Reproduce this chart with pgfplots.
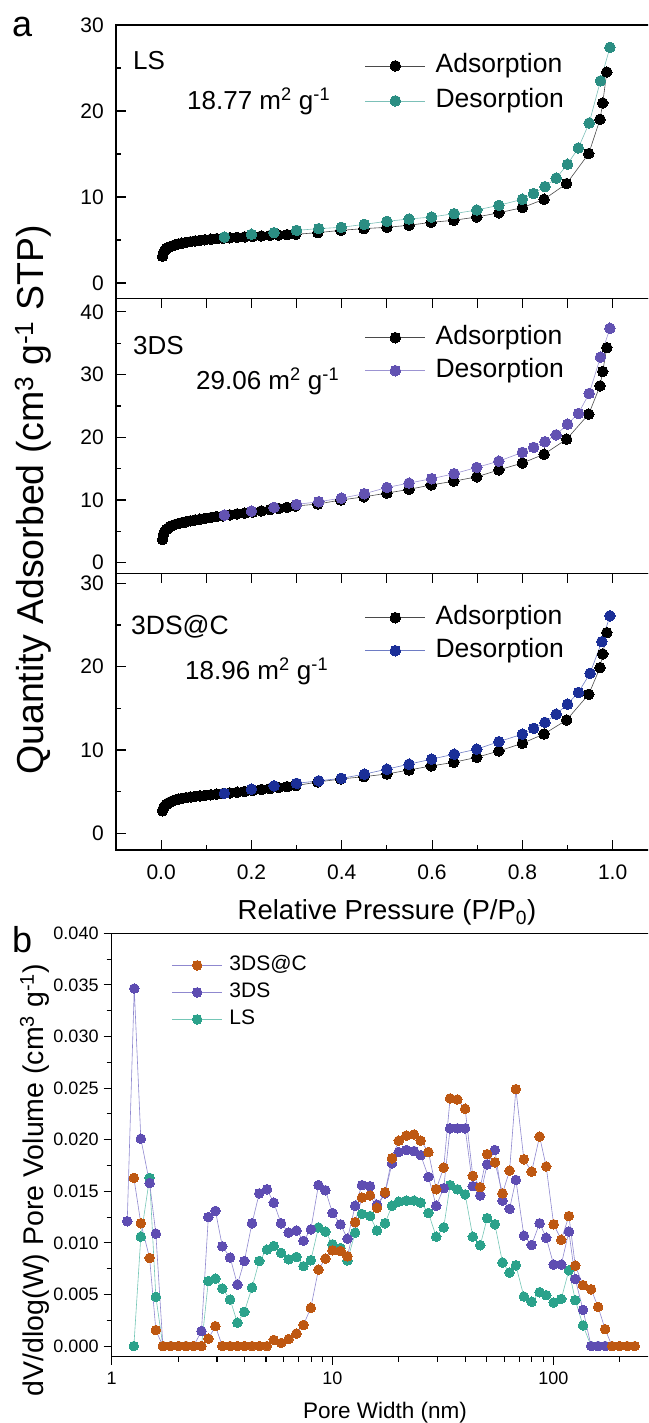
\documentclass[border=0pt]{standalone}
\usepackage{fontspec}
\setmainfont{Liberation Sans}
\usepackage{pgfplots}
\pgfplotsset{compat=1.18}

\definecolor{adsline}{HTML}{4A4A4A}
\definecolor{lsdes}{HTML}{2B8E83}
\definecolor{lsdesline}{HTML}{7CC0B8}
\definecolor{dsdes}{HTML}{6252B2}
\definecolor{dsdesline}{HTML}{9C94D2}
\definecolor{dcdes}{HTML}{1B2F98}
\definecolor{dcdesline}{HTML}{6E7CC4}
\definecolor{bor}{HTML}{BE5812}
\definecolor{bpu}{HTML}{5E4DB2}
\definecolor{bte}{HTML}{2BA28B}
\definecolor{blav}{HTML}{8F88CF}
\definecolor{bteline}{HTML}{74C6B6}

\pgfplotsset{
  panela/.style={
    scale only axis, width=541.8pt, anchor=south west,
    xmin=-0.1, xmax=1.1,
    axis line style={line width=1.2pt},
    every tick/.style={line width=1.1pt, black},
    major tick length=9.5pt, minor tick length=5pt,
    ytick pos=left, xtick pos=lower,
    yticklabel style={font=\fontsize{21}{25}\selectfont, inner sep=0pt, xshift=-12pt},
    /pgf/number format/assume math mode=true,
    legend cell align=left,
    legend image code/.code={
      \draw[mark repeat=2,mark phase=2,##1] plot coordinates {(0pt,0pt) (30pt,0pt) (60pt,0pt)};},
  },
  leg/.style={legend style={draw=none, fill=none, at={(0.4596,#1)}, anchor=north west,
      inner sep=0pt, outer sep=0pt, column sep=10pt,
      font=\fontsize{26.5}{30}\selectfont,
      nodes={inner sep=0pt, text height=19.5pt, text depth=6.5pt}}},
  ads/.style={color=adsline, line width=0.6pt, mark=*, mark size=5.3pt, mark options={fill=black, draw=black, line width=0pt}},
  des/.style={color=#1line, line width=0.6pt, mark=*, mark size=5.3pt, mark options={fill=#1, draw=#1, line width=0pt}},
  pb/.style={line width=0.6pt, mark=*, mark size=4.8pt},
}

\begin{document}
\begin{tikzpicture}
\path[use as bounding box] (0pt,0pt) rectangle (648pt,1423pt);
\clip (0pt,0pt) rectangle (648pt,1423pt);

% ---------------- Panel a1: LS ----------------
\begin{axis}[panela, at={(116pt,1124.7pt)}, height=273.3pt,
  ymin=-1.78, ymax=30,
  ytick={0,10,20,30}, minor ytick={5,15,25},
  xtick={0,0.1,...,1.01}, xticklabels={}, ytick align=inside, xtick align=outside,
  leg=0.898, legend style={row sep=9pt}]
\addplot[ads] coordinates {
(0.003,3.1) (0.005,3.5) (0.008,3.8) (0.012,3.98) (0.016,4.11) (0.02,4.22) (0.025,4.32)
(0.031,4.44) (0.038,4.54) (0.046,4.63) (0.055,4.72) (0.065,4.8) (0.075,4.88) (0.086,4.96)
(0.097,5.03) (0.11,5.09) (0.123,5.15) (0.137,5.21) (0.152,5.26) (0.168,5.31) (0.185,5.36)
(0.203,5.41) (0.222,5.47) (0.241,5.52) (0.26,5.57) (0.279,5.62) (0.298,5.66)
(0.347,5.85) (0.398,6.12) (0.449,6.32) (0.5,6.47) (0.549,6.71) (0.598,7.05) (0.648,7.29)
(0.699,7.67) (0.748,8.16) (0.8,8.76) (0.848,9.73) (0.898,11.55) (0.947,15.04)
(0.972,19.03) (0.978,20.93) (0.987,24.53)};
\addlegendentry{Adsorption}
\addplot[des=lsdes] coordinates {
(0.994,27.4) (0.973,23.5) (0.948,18.6) (0.924,15.7) (0.9,13.8) (0.875,12.2) (0.85,11.2)
(0.825,10.4) (0.8,9.73) (0.748,9.03) (0.699,8.49) (0.649,8.06) (0.599,7.67) (0.549,7.44)
(0.5,7.17) (0.45,6.82) (0.399,6.47) (0.349,6.32) (0.3,6.12) (0.25,5.85) (0.2,5.66) (0.14,5.35)};
\addlegendentry{Desorption}
\end{axis}

% ---------------- Panel a2: 3DS ----------------
\begin{axis}[panela, at={(116pt,849.5pt)}, height=275.2pt,
  ymin=-1.72, ymax=42.18,
  ytick={0,10,20,30,40}, minor ytick={5,15,25,35},
  xtick={0,0.1,...,1.01}, xticklabels={}, xtick align=outside, ytick align=inside,
  leg=0.904, legend style={row sep=7pt}]
\addplot[ads] coordinates {
(0.003,3.7) (0.005,4.5) (0.008,5.0) (0.012,5.3) (0.016,5.55) (0.02,5.75) (0.025,5.95)
(0.031,6.1) (0.038,6.25) (0.046,6.4) (0.055,6.54) (0.065,6.68) (0.075,6.82) (0.086,6.95)
(0.097,7.07) (0.11,7.2) (0.123,7.36) (0.137,7.48) (0.152,7.63) (0.168,7.78) (0.185,7.9)
(0.203,8.07) (0.222,8.26) (0.241,8.47) (0.26,8.66) (0.279,8.83) (0.298,9.04)
(0.347,9.36) (0.398,10.0) (0.449,10.5) (0.5,11.1) (0.549,11.7) (0.598,12.4) (0.648,13.0)
(0.699,13.7) (0.748,14.8) (0.8,15.9) (0.848,17.3) (0.898,19.7) (0.947,23.7)
(0.972,28.2) (0.978,30.5) (0.987,34.3)};
\addlegendentry{Adsorption}
\addplot[des=dsdes] coordinates {
(0.994,37.4) (0.973,32.8) (0.948,27.0) (0.924,23.8) (0.9,22.1) (0.875,20.4) (0.85,19.3)
(0.825,18.4) (0.8,17.6) (0.748,16.2) (0.699,15.2) (0.649,14.2) (0.599,13.4) (0.549,12.7)
(0.5,12.0) (0.45,11.0) (0.399,10.3) (0.349,9.73) (0.3,9.3) (0.25,8.83) (0.2,8.24) (0.14,7.61)};
\addlegendentry{Desorption}
\end{axis}

% ---------------- Panel a3: 3DS@C ----------------
\begin{axis}[panela, at={(116pt,573pt)}, height=276.5pt,
  ymin=-2.0, ymax=31.18,
  ytick={0,10,20,30}, minor ytick={5,15,25},
  xtick={0,0.2,...,1.01}, minor xtick={0.1,0.3,0.5,0.7,0.9},
  xticklabels={0.0,0.2,0.4,0.6,0.8,1.0}, tick align=inside,
  xticklabel style={font=\fontsize{21}{25}\selectfont, inner sep=0pt, anchor=north, yshift=-15pt},
  leg=0.887, legend style={row sep=7pt}]
\addplot[ads] coordinates {
(0.003,2.7) (0.005,3.0) (0.008,3.28) (0.012,3.5) (0.016,3.65) (0.02,3.76) (0.025,3.88)
(0.031,4.0) (0.038,4.12) (0.046,4.2) (0.055,4.28) (0.065,4.37) (0.075,4.44) (0.086,4.5)
(0.097,4.56) (0.11,4.63) (0.123,4.7) (0.137,4.78) (0.152,4.85) (0.168,4.93) (0.185,5.02)
(0.203,5.14) (0.222,5.26) (0.241,5.37) (0.26,5.48) (0.279,5.6) (0.298,5.72)
(0.347,6.16) (0.398,6.52) (0.449,6.8) (0.5,7.12) (0.549,7.6) (0.598,8.08) (0.648,8.52)
(0.699,9.12) (0.748,9.88) (0.8,10.8) (0.848,11.92) (0.898,13.6) (0.947,16.68)
(0.972,19.88) (0.978,21.52) (0.987,24.08)};
\addlegendentry{Adsorption}
\addplot[des=dcdes] coordinates {
(0.994,26.1) (0.976,23.0) (0.95,19.2) (0.924,16.9) (0.9,15.5) (0.875,14.3) (0.85,13.3)
(0.825,12.6) (0.8,11.9) (0.748,11.0) (0.699,10.1) (0.649,9.5) (0.599,8.9) (0.549,8.3)
(0.5,7.7) (0.45,7.1) (0.399,6.6) (0.349,6.3) (0.3,6.0) (0.25,5.7) (0.2,5.3) (0.14,4.8)};
\addlegendentry{Desorption}
\end{axis}

% ---------------- Panel b ----------------
\begin{axis}[scale only axis, anchor=south west, at={(111.7pt,66.3pt)},
  width=546.9pt, height=423.4pt,
  xmode=log, xmin=1, xmax=300, ymin=-0.00103, ymax=0.040,
  scaled y ticks=false,
  axis line style={line width=1.2pt},
  every tick/.style={line width=1.1pt, black},
  major tick length=8pt, minor tick length=5pt,
  tick align=outside, xtick pos=lower, ytick pos=left,
  xtick={1,10,100}, xticklabels={1,10,100},
  minor xtick={2,3,4,5,6,7,8,9,20,30,40,50,60,70,80,90,200,300},
  ytick={0,0.005,0.01,0.015,0.02,0.025,0.03,0.035,0.04},
  yticklabels={0.000,0.005,0.010,0.015,0.020,0.025,0.030,0.035,0.040},
  minor ytick={0.0025,0.0075,0.0125,0.0175,0.0225,0.0275,0.0325,0.0375},
  /pgf/number format/assume math mode=true,
  xticklabel style={font=\fontsize{18}{21}\selectfont, inner sep=0pt, anchor=north, yshift=-7pt},
  yticklabel style={font=\fontsize{18}{21}\selectfont, inner sep=0pt, anchor=east, xshift=-5pt},
  reverse legend, legend cell align=left,
  legend image code/.code={
      \draw[mark repeat=2,mark phase=2,#1] plot coordinates {(0pt,0pt) (25pt,0pt) (50pt,0pt)};},
  legend style={draw=none, fill=none, at={(0.110,0.949)}, anchor=north west,
      inner sep=0pt, outer sep=0pt, row sep=6pt, column sep=7pt,
      font=\fontsize{21}{25}\selectfont,
      nodes={inner sep=0pt, text height=15.75pt, text depth=5.25pt}},
]
\addplot[pb, color=bteline, mark options={fill=bte, draw=bte, line width=0pt}] coordinates {
(1.26,0) (1.355,0.0106) (1.485,0.0163) (1.585,0.00477) (1.706,0) (1.853,0) (2.01,0) (2.17,0)
(2.35,0) (2.55,0) (2.74,0.0063) (2.95,0.00654) (3.17,0.00558) (3.44,0.00451) (3.71,0.00226)
(3.99,0.00332) (4.32,0.00567) (4.66,0.00825) (5.05,0.00935) (5.42,0.0097) (5.85,0.00903)
(6.33,0.00841) (6.87,0.00864) (7.39,0.00774) (7.98,0.00832) (8.64,0.0115) (9.29,0.0111)
(10.0,0.00986) (10.87,0.0095) (11.69,0.0083) (12.67,0.0110) (13.6,0.0128) (14.8,0.0126)
(15.9,0.0112) (17.3,0.0119) (18.6,0.0136) (19.96,0.0140) (21.6,0.0141) (23.4,0.0141)
(25.1,0.0139) (27.2,0.0129) (29.5,0.0106) (31.9,0.0115) (34.1,0.0156) (36.8,0.0152)
(39.9,0.0147) (43.2,0.0106) (46.7,0.00977) (50.2,0.0124) (54.4,0.0118) (58.9,0.0081)
(63.4,0.00712) (67.7,0.00783) (73.6,0.0048) (79.8,0.00429) (86.7,0.00522) (92.9,0.00493)
(100.4,0.00422) (108.7,0.00457) (117.7,0.00735) (125.8,0.00445) (136.4,0.0020)
(148.4,0) (159.6,0) (171.7,0)};
\addlegendentry{LS}
\addplot[pb, color=blav, mark options={fill=bpu, draw=bpu, line width=0pt}] coordinates {
(1.176,0.0121) (1.265,0.03465) (1.355,0.0201) (1.485,0.0158) (1.585,0.0109) (1.706,0)
(1.853,0) (2.01,0) (2.17,0) (2.35,0) (2.55,0.00145) (2.74,0.0125) (2.95,0.0131)
(3.17,0.00967) (3.44,0.00858) (3.71,0.00596) (3.99,0.00825) (4.32,0.0119) (4.66,0.0148)
(5.05,0.0152) (5.42,0.0139) (5.85,0.0119) (6.33,0.0110) (6.87,0.0112) (7.39,0.0102)
(7.98,0.0113) (8.64,0.0156) (9.29,0.0151) (10.0,0.0129) (10.87,0.0118) (11.69,0.0104)
(12.67,0.0136) (13.6,0.0156) (14.8,0.0155) (15.9,0.0137) (17.3,0.0148) (18.6,0.0177)
(19.96,0.0188) (21.6,0.0190) (23.4,0.0189) (25.1,0.0185) (27.2,0.0164) (29.5,0.0136)
(31.9,0.0153) (34.1,0.0211) (36.8,0.0211) (39.9,0.0211) (43.2,0.0155) (46.7,0.0146)
(50.2,0.0176) (54.4,0.0190) (58.9,0.0141) (63.4,0.0133) (67.7,0.0161) (73.6,0.0107)
(79.8,0.0098) (86.7,0.0119) (92.9,0.0105) (100.4,0.0079) (108.7,0.0079) (117.7,0.0111)
(125.8,0.0065) (136.4,0.0035) (148.4,0) (159.6,0) (171.7,0)};
\addlegendentry{3DS}
\addplot[pb, color=blav, mark options={fill=bor, draw=bor, line width=0pt}] coordinates {
(1.26,0.0163) (1.355,0.0119) (1.485,0.00854) (1.585,0.00155) (1.706,0) (1.853,0) (2.01,0)
(2.17,0) (2.35,0) (2.55,0) (2.74,0.00071) (2.95,0.00193) (3.17,0) (3.44,0) (3.71,0)
(3.99,0) (4.32,0) (4.66,0) (5.05,0) (5.42,0.0006) (5.85,0.0003) (6.33,0.00068)
(6.87,0.00122) (7.39,0.00205) (7.98,0.00371) (8.64,0.00741) (9.29,0.00848) (10.0,0.00928)
(10.87,0.00922) (11.69,0.0087) (12.67,0.0120) (13.6,0.0144) (14.8,0.0146) (15.9,0.0134)
(17.3,0.0149) (18.6,0.0182) (19.96,0.0199) (21.6,0.0204) (23.4,0.0205) (25.1,0.0199)
(27.2,0.0188) (29.5,0.0152) (31.9,0.0173) (34.1,0.0240) (36.8,0.0239) (39.9,0.0230)
(43.2,0.0165) (46.7,0.0154) (50.2,0.0186) (54.4,0.0178) (58.9,0.0148) (63.4,0.0170)
(67.7,0.0249) (73.6,0.0181) (79.8,0.0169) (86.7,0.0203) (92.9,0.0174) (100.4,0.0118)
(108.7,0.0103) (117.7,0.0126) (125.8,0.0078) (136.4,0.0059) (148.4,0.0055) (159.6,0.0038)
(171.7,0.00164) (184.6,0) (200,0) (216,0) (234,0)};
\addlegendentry{3DS@C}
\end{axis}

% ---------------- Text ----------------
\node[font=\fontsize{36}{40}\selectfont, anchor=base west, inner sep=0pt] at (12pt,1386pt) {a};
\node[font=\fontsize{36}{40}\selectfont, anchor=base west, inner sep=0pt] at (12pt,470pt) {b};

\node[font=\fontsize{26}{30}\selectfont, anchor=base west, inner sep=0pt] at (133pt,1353pt) {LS};
\node[font=\fontsize{26}{30}\selectfont, anchor=base west, inner sep=0pt] at (187pt,1313.7pt) {18.77 m\textsuperscript{2} g\textsuperscript{-1}};
\node[font=\fontsize{26}{30}\selectfont, anchor=base west, inner sep=0pt] at (133pt,1068.7pt) {3DS};
\node[font=\fontsize{26}{30}\selectfont, anchor=base west, inner sep=0pt] at (196pt,1033pt) {29.06 m\textsuperscript{2} g\textsuperscript{-1}};
\node[font=\fontsize{26.5}{30}\selectfont, anchor=base west, inner sep=0pt] at (131pt,788pt) {3DS@C};
\node[font=\fontsize{26}{30}\selectfont, anchor=base west, inner sep=0pt] at (185pt,743pt) {18.96 m\textsuperscript{2} g\textsuperscript{-1}};

\node[font=\fontsize{37.5}{42}\selectfont, anchor=base, inner sep=0pt, rotate=90] at (43pt,923pt)
  {Quantity Adsorbed (cm\textsuperscript{3} g\textsuperscript{-1} STP)};
\node[font=\fontsize{27.5}{32}\selectfont, anchor=base, inner sep=0pt] at (387pt,503pt)
  {Relative Pressure (P/P\textsubscript{0})};

\node[font=\fontsize{28.5}{33}\selectfont, anchor=base, inner sep=0pt, rotate=90] at (43pt,243pt)
  {dV/dlog(W) Pore Volume (cm\textsuperscript{3} g\textsuperscript{-1})};
\node[font=\fontsize{22.5}{27}\selectfont, anchor=base, inner sep=0pt] at (385pt,5pt)
  {Pore Width (nm)};
\end{tikzpicture}
\end{document}
